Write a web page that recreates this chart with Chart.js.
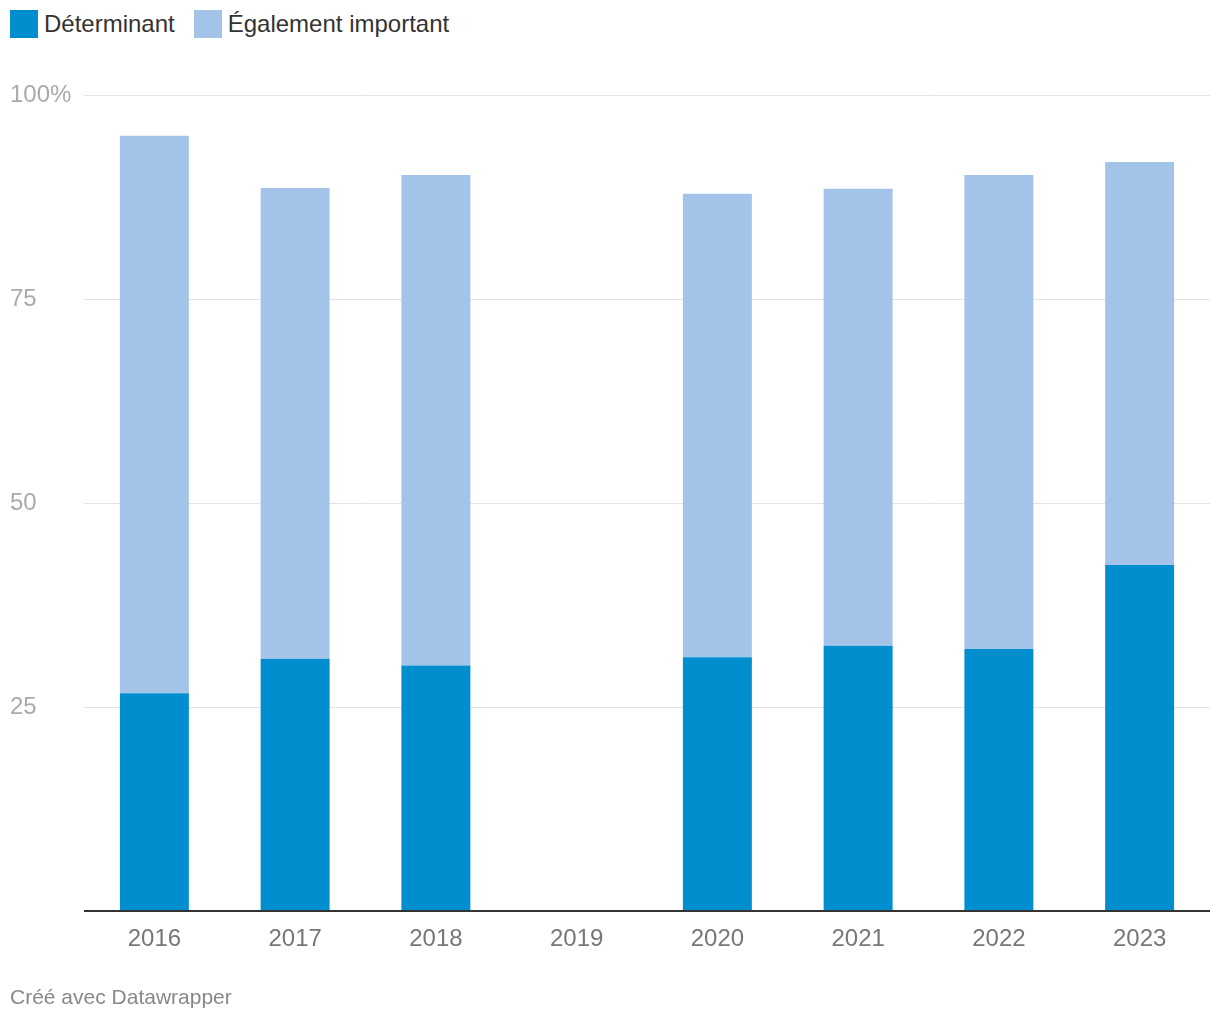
<!DOCTYPE html>
<html lang="fr">
<head>
<meta charset="utf-8">
<title>Déterminant / Également important</title>
<script src="https://cdn.jsdelivr.net/npm/chart.js"></script>
<style>
body { margin: 0; background: #fff; font-family: "Liberation Sans", Arial, Helvetica, sans-serif; }
.wrap { position: relative; width: 1220px; height: 1020px; }
#legend { position: absolute; left: 10px; top: 10px; display: flex; align-items: center; font-size: 24px; color: #333; }
#legend span.item { display: flex; align-items: center; margin-right: 19px; }
#legend span.box { display: inline-block; width: 28px; height: 28px; margin-right: 6px; }
canvas { position: absolute; left: 0; top: 0; }
.foot { position: absolute; left: 10px; top: 985px; font-size: 21px; color: #888; }
</style>
</head>
<body>
<div class="wrap">
  <div id="legend"></div>
  <canvas id="canvas" width="1220" height="1020"></canvas>
  <div class="foot">Créé avec Datawrapper</div>
</div>
<script>
// data
const years = ["2016", "2017", "2018", "2019", "2020", "2021", "2022", "2023"];
const determinant = [26.7, 30.9, 30.1, null, 31.1, 32.5, 32.1, 42.4];
const egalement   = [68.3, 57.7, 60.1, null, 56.8, 56.0, 58.1, 49.4];
const seriesNames = ["Déterminant", "Également important"];
const seriesColors = ["#008ecf", "#a3c4e8"];
const yTicks = [0, 25, 50, 75, 100];

// legend in html
const legendEl = document.getElementById("legend");
seriesNames.forEach((n, i) => {
  legendEl.innerHTML += '<span class="item"><span class="box" style="background:' + seriesColors[i] + '"></span>' + n + '</span>';
});

const ctx = document.getElementById("canvas").getContext("2d");
const chart = new Chart(ctx, {
  type: "bar",
  data: {
    labels: years,
    datasets: [
      { label: seriesNames[0], data: determinant, backgroundColor: seriesColors[0] },
      { label: seriesNames[1], data: egalement, backgroundColor: seriesColors[1] }
    ]
  },
  options: {
    responsive: false,
    animation: false,
    layout: { padding: { top: 95, left: 10, right: 10, bottom: 49 } },
    datasets: { bar: { categoryPercentage: 1, barPercentage: 0.49 } },
    plugins: { legend: { display: false }, tooltip: { enabled: false } },
    scales: {
      x: {
        stacked: true,
        grid: { display: false, drawTicks: false },
        border: { display: false },
        ticks: { color: "#777", font: { family: "'Liberation Sans', Arial", size: 24 }, padding: 14, maxRotation: 0 },
        afterFit: s => { s.height = 60; }
      },
      y: {
        stacked: true,
        min: 0, max: 100,
        afterBuildTicks: s => { s.ticks = yTicks.map(v => ({ value: v })); },
        grid: {
          drawTicks: false,
          color: c => c.tick && c.tick.value === 0 ? "#333" : "#e3e3e3",
          lineWidth: c => c.tick && c.tick.value === 0 ? 2 : 1
        },
        border: { display: false },
        ticks: {
          crossAlign: "far",
          padding: 0,
          color: "#aaa",
          font: { family: "'Liberation Sans', Arial", size: 24 },
          callback: v => v === 0 ? "" : (v === 100 ? "100%" : v)
        },
        afterFit: s => { s.width = 74; }
      }
    }
  }
});
</script>
</body>
</html>
